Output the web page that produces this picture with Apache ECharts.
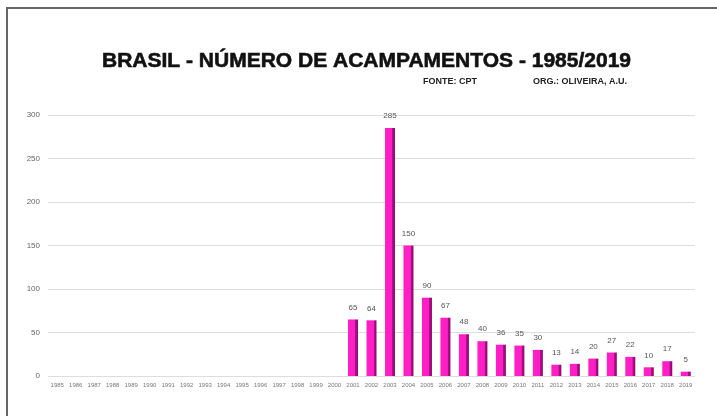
<!DOCTYPE html>
<html>
<head>
<meta charset="utf-8">
<script src="https://cdn.jsdelivr.net/npm/echarts@6/dist/echarts.min.js"></script>
<style>
  html, body { margin: 0; padding: 0; background: #fff; }
  #chart { width: 717px; height: 416px; }
</style>
</head>
<body>
<div id="chart"></div>
<script>
// anos 1985..2019
let anos = [];
for (let a = 1985; a <= 2019; a++) anos.push(String(a));

// acampamentos por ano (0 = sem registro no gráfico)
let acampamentos = [
  0, 0, 0, 0, 0, 0, 0, 0, 0, 0, 0, 0, 0, 0, 0, 0,
  65, 64, 285, 150, 90, 67, 48, 40, 36, 35, 30, 13, 14, 20, 27, 22, 10, 17, 5
];

let yTicks = [0, 50, 100, 150, 200, 250, 300];

let myChart = echarts.init(document.getElementById("chart"));
myChart.setOption({
  backgroundColor: "#fff",
  title: [
    {
      text: "BRASIL - NÚMERO DE ACAMPAMENTOS - 1985/2019",
      left: 97,
      top: 46,
      textStyle: {
        fontFamily: "Liberation Sans", fontWeight: "bold", fontSize: 21, color: "#111",
        textBorderColor: "#111", textBorderWidth: 0.6
      }
    },
    {
      text: "FONTE: CPT",
      left: 418,
      top: 72,
      textStyle: { fontFamily: "Liberation Sans", fontWeight: "bold", fontSize: 9, color: "#222" }
    },
    {
      text: "ORG.: OLIVEIRA, A.U.",
      left: 528,
      top: 72,
      textStyle: { fontFamily: "Liberation Sans", fontWeight: "bold", fontSize: 9, color: "#222" }
    }
  ],
  graphic: [
    { type: "polyline", shape: { points: [[7, 416], [7, 8], [717, 8]] }, style: { stroke: "#666", lineWidth: 2, fill: null } }
  ],
  grid: { left: 48, right: 22, top: 115, bottom: 40 },
  xAxis: {
    type: "category",
    data: anos,
    axisLine: { show: false },
    axisTick: { show: false },
    axisLabel: { interval: 0, fontSize: 6, color: "#777", margin: 6, fontFamily: "Liberation Sans" }
  },
  yAxis: {
    type: "value",
    min: yTicks[0],
    max: yTicks[yTicks.length - 1],
    interval: 50,
    axisLine: { show: false },
    axisTick: { show: false },
    axisLabel: { fontSize: 8, color: "#666", margin: 8, fontFamily: "Liberation Sans" },
    splitLine: { lineStyle: { color: "#ddd", width: 1 } }
  },
  series: [
    {
      type: "bar",
      data: acampamentos,
      barWidth: 10,
      itemStyle: {
        color: new echarts.graphic.LinearGradient(0, 0, 1, 0, [
          { offset: 0, color: "#ff1fc4" },
          { offset: 0.7, color: "#ff1fc4" },
          { offset: 0.75, color: "#b0108a" },
          { offset: 1, color: "#8a0a6c" }
        ])
      },
      label: {
        show: true,
        position: "top",
        distance: 8,
        fontSize: 8,
        color: "#555",
        fontFamily: "Liberation Sans",
        formatter: p => (p.value > 0 ? p.value : "")
      }
    }
  ]
});
</script>
</body>
</html>
